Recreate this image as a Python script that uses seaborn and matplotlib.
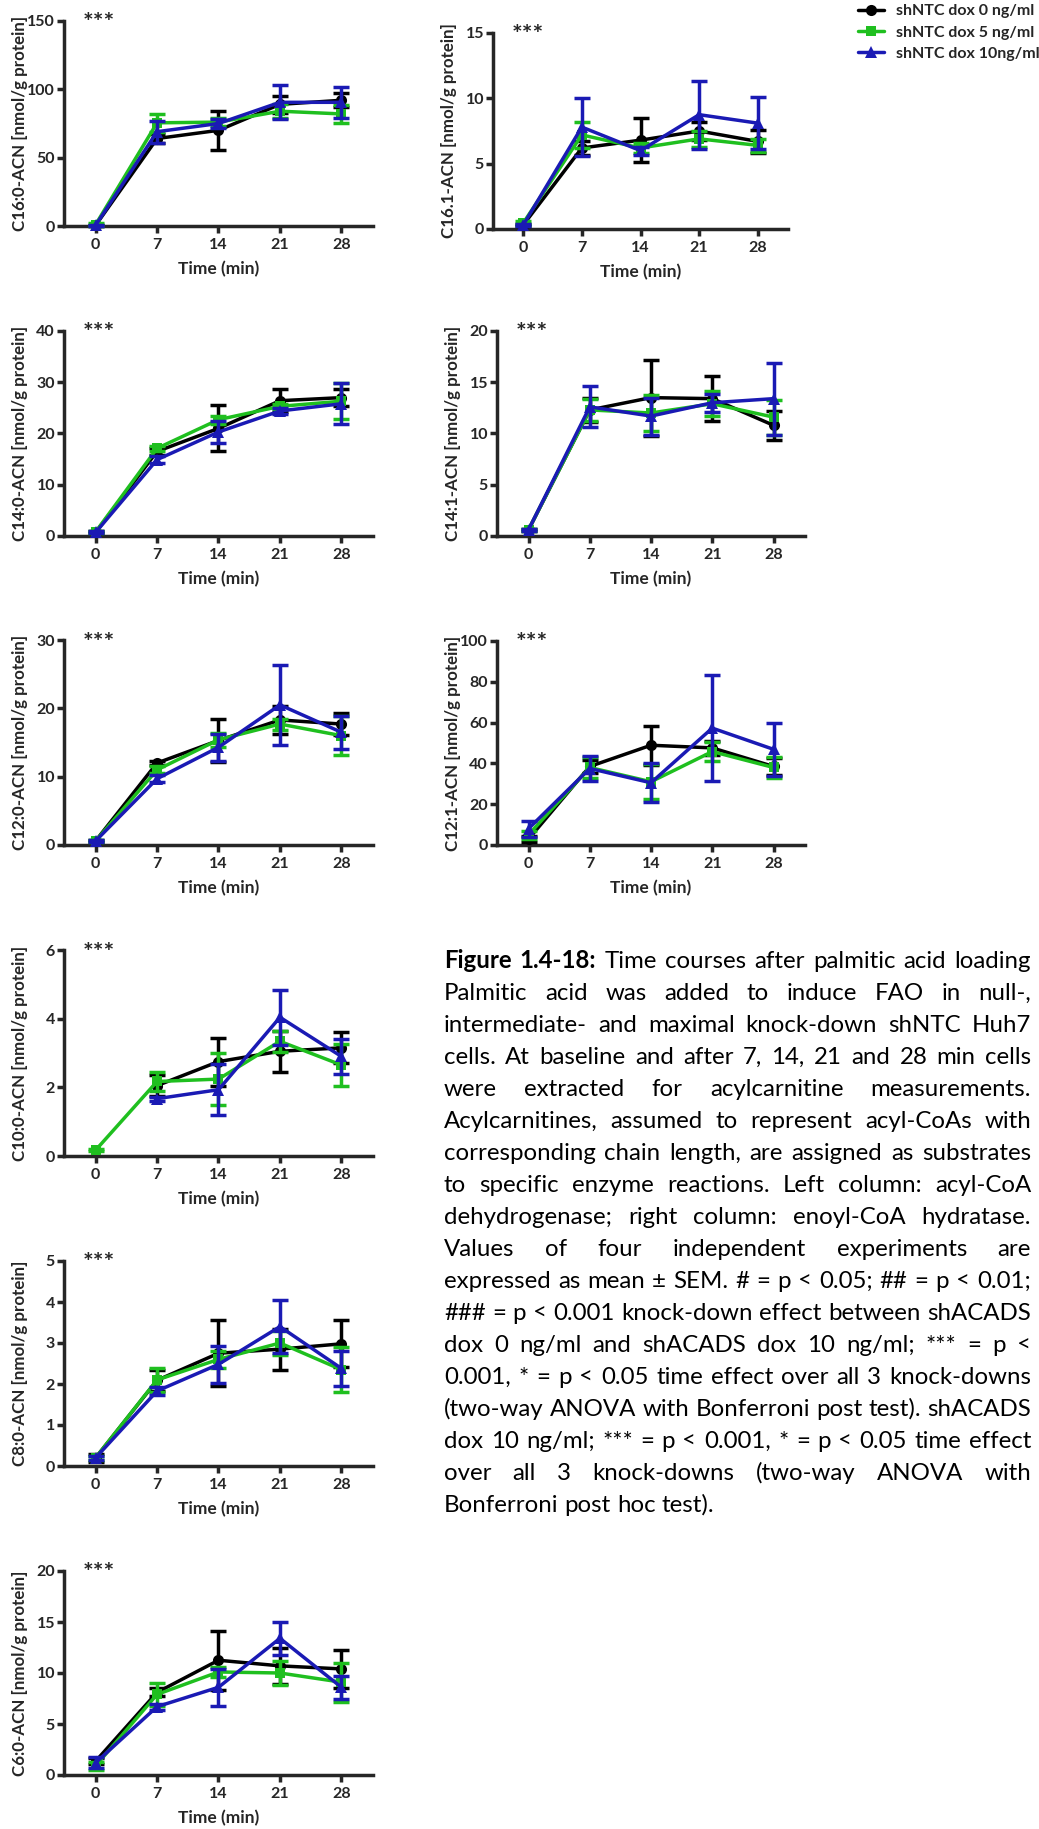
import numpy as np
import pandas as pd
import matplotlib
matplotlib.use("Agg")
import matplotlib.pyplot as plt
import seaborn as sns

# ---------------- data ----------------
TIMES = [0, 7, 14, 21, 28]
GROUPS = ["shNTC dox 0 ng/ml", "shNTC dox 5 ng/ml", "shNTC dox 10ng/ml"]
nan = np.nan

# rows: dox 0 (black), dox 5 (green), dox 10 (blue)
C16_0_MEAN = [[0.5, 64, 70, 89, 92], [1.0, 75.5, 76, 84, 82], [0.5, 69, 75, 90.5, 90.5]]
C16_0_SEM = [[0.5, 3, 14.5, 6, 5], [1.0, 6.5, 3, 5, 6.5], [0.5, 8, 3, 12.5, 11.5]]

C16_1_MEAN = [[0.3, 6.2, 6.8, 7.5, 6.7], [0.45, 7.2, 6.2, 6.9, 6.4], [0.3, 7.8, 6.0, 8.75, 8.1]]
C16_1_SEM = [[0.1, 0.5, 1.7, 0.7, 0.9], [0.15, 1.0, 0.4, 0.6, 0.5], [0.1, 2.25, 0.3, 2.6, 2.0]]

C14_0_MEAN = [[0.7, 16.5, 21.0, 26.4, 27.0], [0.8, 17.1, 22.7, 25.3, 26.3], [0.7, 14.9, 20.3, 24.4, 25.8]]
C14_0_SEM = [[0.2, 0.6, 4.5, 2.3, 1.7], [0.2, 0.5, 0.8, 0.5, 3.5], [0.2, 0.7, 2.1, 0.6, 4.0]]

C14_1_MEAN = [[0.6, 12.3, 13.5, 13.4, 10.8], [0.6, 12.3, 12.0, 12.9, 11.6], [0.6, 12.6, 11.7, 13.0, 13.4]]
C14_1_SEM = [[0.1, 1.2, 3.7, 2.2, 1.4], [0.1, 1.1, 1.8, 1.2, 1.7], [0.1, 2.0, 1.8, 0.9, 3.5]]

C12_0_MEAN = [[0.6, 12.0, 15.3, 18.3, 17.7], [0.6, 11.0, 15.4, 17.7, 16.0], [0.6, 9.7, 14.3, 20.5, 16.5]]
C12_0_SEM = [[0.1, 0.3, 3.1, 2.0, 1.6], [0.1, 0.5, 1.0, 0.8, 2.9], [0.1, 0.5, 2.0, 5.9, 2.4]]

C12_1_MEAN = [[2.9, 38.5, 48.9, 47.6, 38.5], [5.0, 38.0, 31.0, 45.8, 38.0], [8.0, 37.5, 30.5, 57.3, 46.9]]
C12_1_SEM = [[1.5, 3.0, 9.5, 3.5, 4.0], [2.0, 5.0, 8.5, 4.5, 5.0], [4.0, 6.0, 9.5, 26.0, 12.9]]

C10_0_MEAN = [[nan, 2.05, 2.75, 3.05, 3.15], [0.17, 2.17, 2.24, 3.34, 2.65], [nan, 1.67, 1.93, 4.04, 2.9]]
C10_0_SEM = [[nan, 0.3, 0.7, 0.6, 0.45], [0.02, 0.28, 0.75, 0.3, 0.6], [nan, 0.06, 0.75, 0.8, 0.5]]

C8_0_MEAN = [[0.2, 2.09, 2.75, 2.85, 2.98], [0.2, 2.1, 2.6, 3.0, 2.35], [0.2, 1.83, 2.48, 3.4, 2.38]]
C8_0_SEM = [[0.1, 0.25, 0.8, 0.5, 0.57], [0.05, 0.3, 0.2, 0.3, 0.55], [0.05, 0.1, 0.45, 0.65, 0.42]]

C6_0_MEAN = [[1.35, 8.1, 11.25, 10.7, 10.4], [0.9, 7.9, 10.1, 10.0, 9.1], [1.2, 6.7, 8.6, 13.4, 8.6]]
C6_0_SEM = [[0.3, 0.4, 2.9, 1.8, 1.9], [0.4, 1.1, 0.5, 1.2, 1.9], [0.55, 0.3, 1.8, 1.6, 1.1]]

YLABELS = ["C16:0-ACN [nmol/g protein]", "C16.1-ACN [nmol/g protein]",
           "C14:0-ACN [nmol/g protein]", "C14:1-ACN [nmol/g protein]",
           "C12:0-ACN [nmol/g protein]", "C12:1-ACN [nmol/g protein]",
           "C10:0-ACN [nmol/g protein]", "C8:0-ACN [nmol/g protein]",
           "C6:0-ACN [nmol/g protein]"]
YMAX = [150, 15, 40, 20, 30, 100, 6, 5, 20]
YSTEP = [50, 5, 10, 5, 10, 20, 2, 1, 5]
SIG_LABEL = "***"
XLABEL = "Time (min)"

CAPTION_LINES = [
    "Figure 1.4-18: Time courses after palmitic acid loading",
    "Palmitic acid was added to induce FAO in null-,",
    "intermediate- and maximal knock-down shNTC Huh7",
    "cells. At baseline and after 7, 14, 21 and 28 min cells",
    "were extracted for acylcarnitine measurements.",
    "Acylcarnitines, assumed to represent acyl-CoAs with",
    "corresponding chain length, are assigned as substrates",
    "to specific enzyme reactions. Left column: acyl-CoA",
    "dehydrogenase; right column: enoyl-CoA hydratase.",
    "Values of four independent experiments are",
    "expressed as mean \u00b1 SEM. # = p < 0.05; ## = p < 0.01;",
    "### = p < 0.001 knock-down effect between shACADS",
    "dox 0 ng/ml and shACADS dox 10 ng/ml; *** = p <",
    "0.001, * = p < 0.05 time effect over all 3 knock-downs",
    "(two-way ANOVA with Bonferroni post test). shACADS",
    "dox 10 ng/ml; *** = p < 0.001, * = p < 0.05 time effect",
    "over all 3 knock-downs (two-way ANOVA with",
    "Bonferroni post hoc test).",
]
N_BOLD_WORDS = 2

# ---------------- style ----------------
COLORS = ["#000000", "#1fbf1f", "#1a1ab4"]
MARKERS = ["o", "s", "^"]
MSIZES = [8, 7.5, 8.5]

sns.set_style("ticks")
FONT = ["Lato", "DejaVu Sans"]
plt.rcParams["font.family"] = FONT
plt.rcParams["font.weight"] = "bold"
plt.rcParams["axes.labelweight"] = "bold"

W, H = 1039, 1829
fig = plt.figure(figsize=(W / 100, H / 100), dpi=100)

# panel rectangles in pixels: left, right, top, bottom
RECTS = [(64, 373, 21, 226), (493, 788, 33, 229),
         (64, 373, 331, 536), (497, 805, 331, 536),
         (64, 373, 640, 845), (497, 805, 641, 845),
         (64, 373, 950, 1156),
         (64, 373, 1261, 1466),
         (64, 373, 1571, 1775)]
MEANS = [C16_0_MEAN, C16_1_MEAN, C14_0_MEAN, C14_1_MEAN, C12_0_MEAN, C12_1_MEAN,
         C10_0_MEAN, C8_0_MEAN, C6_0_MEAN]
SEMS = [C16_0_SEM, C16_1_SEM, C14_0_SEM, C14_1_SEM, C12_0_SEM, C12_1_SEM,
        C10_0_SEM, C8_0_SEM, C6_0_SEM]

LW = 2.5
TICK_FS = 11.5
handles = None
for i, (rect, mean, sem) in enumerate(zip(RECTS, MEANS, SEMS)):
    l, r, t, b = rect
    wpx, hpx = r - l, b - t
    ax = fig.add_axes([l / W, 1 - b / H, wpx / W, hpx / H])
    for g in range(3):
        eb = ax.errorbar(TIMES, mean[g], yerr=sem[g], fmt="none", ecolor=COLORS[g],
                         elinewidth=LW, capsize=6, capthick=LW, zorder=3 + g)
        for art in list(eb.lines[1]) + list(eb.lines[2]):
            art.set_clip_on(False)
        df = pd.DataFrame({"Time": TIMES, "Value": mean[g]})
        sns.lineplot(data=df, x="Time", y="Value", color=COLORS[g], marker=MARKERS[g],
                     markersize=MSIZES[g], markeredgecolor=COLORS[g], markeredgewidth=0,
                     linewidth=LW, ax=ax, zorder=3 + g, clip_on=False, label=GROUPS[g],
                     legend=False, errorbar=None)
    if ax.get_legend() is not None:
        ax.get_legend().remove()
    if i == 1:
        handles, labels = ax.get_legend_handles_labels()
    ax.set_xlim(-3.6, 31.6)
    ax.set_ylim(0, YMAX[i])
    ax.set_xticks(TIMES)
    yt = np.arange(0, YMAX[i] + YSTEP[i] / 2, YSTEP[i])
    ax.set_yticks(yt)
    ax.set_yticklabels([f"{v:g}" for v in yt])
    ax.set_xticklabels([str(v) for v in TIMES])
    sns.despine(ax=ax)
    for s in ("left", "bottom"):
        ax.spines[s].set_linewidth(LW)
    ax.tick_params(axis="both", width=LW, length=5, labelsize=TICK_FS)
    ax.tick_params(axis="y", pad=1.5)
    ax.tick_params(axis="x", pad=3.5)
    ax.set_xlabel(XLABEL, fontsize=12.5, fontweight="bold")
    ax.set_ylabel(YLABELS[i], fontsize=12.2, fontweight="bold")
    ax.yaxis.set_label_coords(-36 / wpx, 0.5)
    ax.xaxis.set_label_coords(0.5, -35 / hpx)
    ax.text(19 / wpx, 1 - 3 / hpx, SIG_LABEL, transform=ax.transAxes, fontsize=18,
            fontweight="bold", ha="left", va="center")

# legend
fig.legend(handles, labels, loc="upper left", bbox_to_anchor=(858 / W, 1 - 4 / H),
           frameon=False, handlelength=1.6, handletextpad=0.8,
           labelspacing=0.45, borderpad=0, borderaxespad=0,
           prop={"weight": "bold", "size": 11.5})

# ---------------- caption (justified) ----------------
renderer = fig.canvas.get_renderer()


def text_width(s, size, weight):
    tt = fig.text(0, 0, s, fontsize=size, fontweight=weight, family=FONT)
    w = tt.get_window_extent(renderer).width
    tt.remove()
    return w


CAP_LEFT, CAP_RIGHT = 444, 1031
CAP_Y0, CAP_DY = 968, 32
base = 16.0


def line_words(k):
    words = CAPTION_LINES[k].split(" ")
    weights = ["bold" if (k == 0 and j < N_BOLD_WORDS) else "normal" for j in range(len(words))]
    return words, weights


def natural_width(k, size):
    words, weights = line_words(k)
    sp = text_width("a a", size, "normal") - text_width("aa", size, "normal")
    return sum(text_width(wd, size, wt) for wd, wt in zip(words, weights)) + sp * (len(words) - 1)


maxw = max(natural_width(k, base) for k in range(len(CAPTION_LINES)))
cap_fs = base * (CAP_RIGHT - CAP_LEFT) / maxw
space_w = text_width("a a", cap_fs, "normal") - text_width("aa", cap_fs, "normal")

for k in range(len(CAPTION_LINES)):
    words, weights = line_words(k)
    widths = [text_width(wd, cap_fs, wt) for wd, wt in zip(words, weights)]
    last = k == len(CAPTION_LINES) - 1
    if last or len(words) == 1:
        gap = space_w
    else:
        gap = (CAP_RIGHT - CAP_LEFT - sum(widths)) / (len(words) - 1)
    x = CAP_LEFT
    y = CAP_Y0 + CAP_DY * k
    for wd, wt, wdt in zip(words, weights, widths):
        fig.text(x / W, 1 - y / H, wd, fontsize=cap_fs, fontweight=wt, family=FONT,
                 ha="left", va="baseline", color="black")
        x += wdt + gap

fig.savefig("out.png", dpi=100)
